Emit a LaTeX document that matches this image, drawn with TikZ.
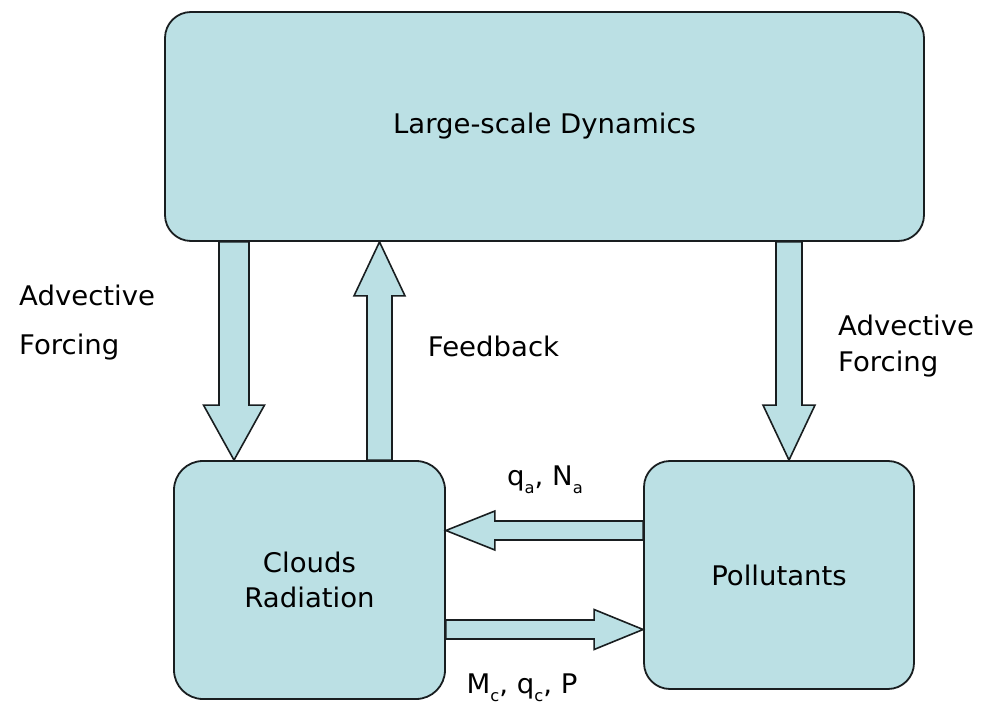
\documentclass[tikz,border=0pt]{standalone}
\usepackage{fontspec}
\setmainfont[FakeStretch=1.02]{DejaVu Sans}
\usetikzlibrary{calc}
\definecolor{boxfill}{RGB}{187,224,228}
\definecolor{edgecol}{RGB}{25,30,32}
\newcommand{\lowidx}[1]{\raisebox{-0.3em}{\fontsize{16}{16}\selectfont #1}}
% #1 start, #2 tip, #3 shaft half width, #4 head half width, #5 head length
\newcommand{\fatarrow}[5]{%
  \coordinate (hb) at ($(#2)!#5!(#1)$);
  \draw[fatline] ($(#1)!#3!90:(#2)$) -- ($(hb)!#3!90:(#2)$) -- ($(hb)!#4!90:(#2)$)
    -- (#2) -- ($(hb)!#4!-90:(#2)$) -- ($(hb)!#3!-90:(#2)$) -- ($(#1)!#3!-90:(#2)$) -- cycle;
}
\begin{document}
\begin{tikzpicture}[x=1pt,y=-1pt,
  box/.style={draw=edgecol, line width=1.8pt, fill=boxfill, rounded corners=26pt, inner sep=0pt,
              font=\fontsize{27}{35}\selectfont, align=center},
  lbl/.style={font=\fontsize{27}{30}\selectfont, inner sep=0pt},
  fatline/.style={draw=edgecol, line width=1.6pt, fill=boxfill, line join=miter}
]
\useasboundingbox (0,0) rectangle (991,703);
% boxes
\node[box, minimum width=759pt, minimum height=229pt] (top) at (544.5,126.5)
  {Large-scale Dynamics};
\node[box, minimum width=271pt, minimum height=238pt, rounded corners=29pt] (cl) at (309.5,580)
  {Clouds\\Radiation};
\node[box, minimum width=270pt, minimum height=228pt] (pol) at (779,575) {Pollutants};
% helper coordinates
\coordinate (xa) at (234,0);
\coordinate (xf) at (379.5,0);
\coordinate (xb) at (789,0);
\coordinate (yq) at (0,530.5);
\coordinate (ym) at (0,629.5);
% block arrows
\fatarrow{xa |- top.south}{xa |- cl.north}{15pt}{30.5pt}{55pt}
\fatarrow{xf |- cl.north}{xf |- top.south}{12.5pt}{25.5pt}{54pt}
\fatarrow{xb |- top.south}{xb |- pol.north}{13pt}{26pt}{55pt}
\fatarrow{pol.west |- yq}{cl.east |- yq}{9.5pt}{19.5pt}{49pt}
\fatarrow{cl.east |- ym}{pol.west |- ym}{9.5pt}{20pt}{49pt}
% labels
\node[lbl, anchor=base west] (la1) at (19,306) {Advective};
\node[lbl, anchor=base west] (la2) at (19,355) {Forcing};
\node[lbl, anchor=base] (fb) at (493.5,356) {Feedback};
\node[lbl, anchor=base west] (ra1) at (838,336) {Advective};
\node[lbl, anchor=base west] (ra2) at (838,372) {Forcing};
\node[lbl, anchor=base] (qa) at (545,485) {q\lowidx{a}, N\lowidx{a}};
\node[lbl, anchor=base] (mc) at (522,693) {M\lowidx{c}, q\lowidx{c}, P};
\end{tikzpicture}
\end{document}
